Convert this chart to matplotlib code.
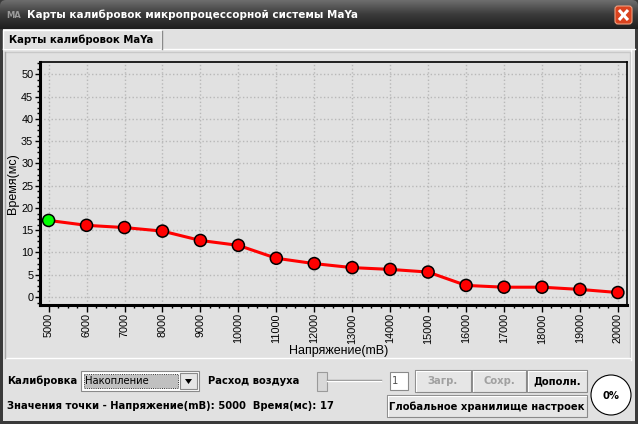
import matplotlib
matplotlib.use("Agg")
import matplotlib.pyplot as plt
import numpy as np
from matplotlib.patches import Rectangle, FancyBboxPatch, Circle, Polygon
from matplotlib.ticker import MultipleLocator, AutoMinorLocator
from matplotlib.colors import LinearSegmentedColormap

# calibration map values
voltage = [5000, 6000, 7000, 8000, 9000, 10000, 11000, 12000,
           13000, 14000, 15000, 16000, 17000, 18000, 19000, 20000]
time_ms = [17.2, 16.1, 15.6, 14.8, 12.7, 11.6, 8.7, 7.5,
           6.6, 6.2, 5.6, 2.6, 2.2, 2.2, 1.7, 1.0]
selected = 0

window_title = "Карты калибровок микропроцессорной системы MaYa"
tab_title = "Карты калибровок MaYa"
x_label = "Напряжение(mВ)"
y_label = "Время(мс)"

W, H = 638, 424
BG = "#e1e1e1"
UI_FONT = ["DejaVu Sans"]
PLOT_FONT = ["Liberation Sans", "DejaVu Sans"]
UI_SIZE = 7.2


def rect(ax, x0, y0, x1, y1, **kw):
    ax.add_patch(Rectangle((x0, y0), x1 - x0, y1 - y0, **kw))


def button(ax, x0, y0, x1, y1, label, enabled=True):
    rect(ax, x0, y0, x1, y1, facecolor="#e6e6e6", edgecolor="#8a8a8a", lw=0.8)
    ax.plot([x0 + 1, x1 - 1], [y0 + 1, y0 + 1], color="white", lw=0.8)
    ax.plot([x0 + 1, x0 + 1], [y0 + 1, y1 - 1], color="white", lw=0.8)
    ax.text((x0 + x1) / 2, (y0 + y1) / 2 + 0.5, label, ha="center", va="center",
            fontsize=UI_SIZE, fontweight="bold", family=UI_FONT,
            color="black" if enabled else "#a0a0a0")


def main():
    fig = plt.figure(figsize=(W / 100, H / 100), dpi=100)
    fig.patch.set_facecolor(BG)

    ui = fig.add_axes([0, 0, 1, 1])
    ui.set_xlim(0, W)
    ui.set_ylim(H, 0)
    ui.axis("off")

    # window frame
    rect(ui, 0, 0, W, H, facecolor="#3a3a3a", edgecolor="none")
    rect(ui, 3, 28, W - 3, H - 3, facecolor=BG, edgecolor="none")

    # title bar gradient
    grad = np.linspace(0, 1, 60).reshape(-1, 1)
    cmap = LinearSegmentedColormap.from_list("bar", ["#6e6e6e", "#3a3a3a", "#1e1e1e"])
    im = ui.imshow(grad, extent=(0, W, 29, 0), cmap=cmap, aspect="auto", zorder=1)
    clip = FancyBboxPatch((0, 0), W, 40, boxstyle="round,pad=0,rounding_size=6",
                          transform=ui.transData, facecolor="none", edgecolor="none")
    ui.add_patch(clip)
    im.set_clip_path(clip)
    ui.text(6, 15, "MA", fontsize=6, color="#9a9a9a", fontweight="bold",
            va="center", family=UI_FONT, zorder=2)
    ui.text(27, 15, window_title, fontsize=7.5, color="white", fontweight="bold",
            va="center", family=UI_FONT, zorder=2)
    ui.add_patch(FancyBboxPatch((615, 6), 17, 18, boxstyle="round,pad=0,rounding_size=3",
                                facecolor="#d9431f", edgecolor="#f0a080", lw=0.8, zorder=2))
    ui.plot([619, 628], [10, 20], color="white", lw=2.2, zorder=3, solid_capstyle="butt")
    ui.plot([619, 628], [20, 10], color="white", lw=2.2, zorder=3, solid_capstyle="butt")

    # tab and panels
    ui.plot([3, W - 3], [49, 49], color="white", lw=1)
    rect(ui, 3, 30, 162, 49, facecolor=BG, edgecolor="none", zorder=2)
    ui.plot([3, 3, 161, 161], [49, 30, 30, 49], color="white", lw=1, zorder=3)
    ui.plot([162, 162], [31, 49], color="#8a8a8a", lw=1, zorder=3)
    ui.text(9, 40, tab_title, fontsize=7.3, fontweight="bold", va="center",
            family=UI_FONT, zorder=3)
    ui.plot([631, 631], [49, 360], color="white", lw=1)
    ui.plot([5, 630, 630], [52, 52, 358], color="#c8c8c8", lw=1)
    ui.plot([5, 630], [358, 358], color="white", lw=1)
    ui.plot([5, 5], [52, 358], color="#a8a8a8", lw=1)

    # bottom controls, first row
    ui.text(7, 381, "Калибровка", fontsize=UI_SIZE, fontweight="bold", va="center",
            family=UI_FONT)
    rect(ui, 81, 371, 199, 391, facecolor="white", edgecolor="#8a8a8a", lw=0.8)
    rect(ui, 84, 374, 178, 388, facecolor="#c0c0c0", edgecolor="black", lw=0.6,
         linestyle=":")
    ui.text(85, 381.5, "Накопление", fontsize=UI_SIZE, va="center", family=UI_FONT)
    rect(ui, 180, 373, 197, 389, facecolor="#e6e6e6", edgecolor="#8a8a8a", lw=0.8)
    ui.add_patch(Polygon([[185, 379], [192, 379], [188.5, 384]], closed=True,
                         facecolor="black", edgecolor="none"))
    ui.text(208, 381, "Расход воздуха", fontsize=UI_SIZE, fontweight="bold",
            va="center", family=UI_FONT)
    ui.plot([327, 381], [380, 380], color="#8a8a8a", lw=1)
    ui.plot([327, 381], [381, 381], color="white", lw=1)
    rect(ui, 317, 372, 327, 391, facecolor="#d8d8d8", edgecolor="#9a9a9a", lw=0.8)
    rect(ui, 390, 372, 408, 390, facecolor="white", edgecolor="#8a8a8a", lw=0.8)
    ui.text(392, 381.5, "1", fontsize=UI_SIZE, va="center", family=UI_FONT,
            color="#505050")
    button(ui, 415, 370, 471, 392, "Загр.", enabled=False)
    button(ui, 472, 370, 526, 392, "Сохр.", enabled=False)
    button(ui, 527, 370, 587, 392, "Дополн.")

    # second row
    ui.text(7, 406, "Значения точки - Напряжение(mВ): %d  Время(мс): %d"
            % (voltage[selected], round(time_ms[selected])),
            fontsize=UI_SIZE, fontweight="bold", va="center", family=UI_FONT)
    button(ui, 387, 395, 587, 417, "Глобальное хранилище настроек")
    ui.add_patch(Circle((611, 395), 20, facecolor="white", edgecolor="black", lw=0.8))
    ui.text(611, 396, "0%", fontsize=UI_SIZE, fontweight="bold", ha="center",
            va="center", family=UI_FONT)

    # chart
    left, right, top, bottom = 39.5, 627, 62, 305
    ax = fig.add_axes([left / W, 1 - bottom / H, (right - left) / W, (bottom - top) / H])
    ax.set_facecolor(BG)
    colors = ["#ff0000"] * len(voltage)
    colors[selected] = "#00ff00"
    ax.plot(voltage, time_ms, color="#ff0000", lw=2.2, zorder=2)
    ax.scatter(voltage, time_ms, s=75, c=colors, edgecolors="black",
               linewidths=1.1, zorder=3)
    ax.set_xlim(4760, 20240)
    ax.set_ylim(-1.8, 52.8)
    ax.xaxis.set_major_locator(MultipleLocator(1000))
    ax.xaxis.set_minor_locator(AutoMinorLocator(4))
    ax.yaxis.set_major_locator(MultipleLocator(5))
    ax.yaxis.set_minor_locator(AutoMinorLocator(4))
    ax.grid(True, which="major", color="#b8b8b8", linestyle=":", lw=1)
    ax.set_axisbelow(True)
    for side in ("left", "bottom"):
        ax.spines[side].set_linewidth(2.2)
    for side in ("top", "right"):
        ax.spines[side].set_linewidth(1.2)
    ax.tick_params(axis="x", which="major", length=5, width=1, pad=1)
    ax.tick_params(axis="y", which="major", length=3.5, width=1, pad=1)
    ax.tick_params(which="minor", length=2.5, width=1)
    ax.tick_params(labelsize=7.8)
    for lab in ax.get_xticklabels() + ax.get_yticklabels():
        lab.set_family(PLOT_FONT)
    plt.setp(ax.get_xticklabels(), rotation=90)
    ax.set_xlabel(x_label, fontsize=9, family=PLOT_FONT)
    ax.set_ylabel(y_label, fontsize=9, family=PLOT_FONT)
    ax.xaxis.set_label_coords(0.51, -0.165)
    ax.yaxis.set_label_coords(-0.035, 0.5)

    fig.savefig("out.png", dpi=100, facecolor=fig.get_facecolor())


if __name__ == "__main__":
    main()
